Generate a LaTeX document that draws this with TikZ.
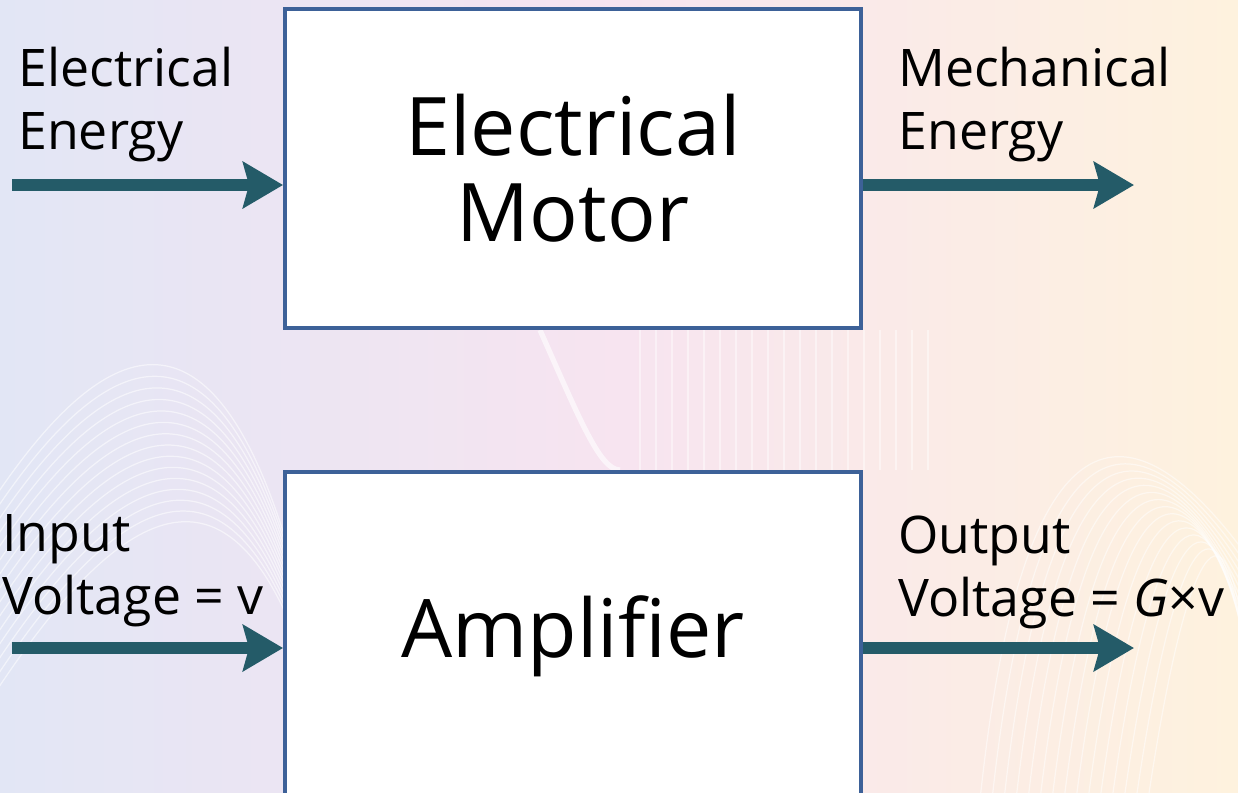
\documentclass[tikz,border=0pt]{standalone}
\usepackage{fontspec}
\setmainfont{Open Sans}
\usetikzlibrary{arrows.meta}
\definecolor{arrowc}{HTML}{245B68}
\definecolor{boxc}{HTML}{3D6198}
\definecolor{bgL}{HTML}{E2E6F5}
\definecolor{bgM}{HTML}{F7E4F0}
\definecolor{bgR}{HTML}{FEF2DE}
\begin{document}
\begin{tikzpicture}[x=0.02cm,y=-0.02cm,
  blockbox/.style={draw=boxc, line width=0.08cm, fill=white, minimum width=11.52cm, inner sep=0pt, align=center, font=\fontsize{46}{49}\selectfont},
  lbl/.style={anchor=base west, align=left, inner sep=0pt, font=\fontsize{29.5}{35.7}\selectfont},
  arr/.style={draw=arrowc, line width=0.24cm, -{Stealth[length=0.8cm, width=0.92cm, inset=0.12cm]}}]
\useasboundingbox (0,0) rectangle (1238,792);
\clip (0,0) rectangle (1238,792);
\shade[left color=bgL, right color=bgM] (0,0) rectangle (619,792);
\shade[left color=bgM, right color=bgR] (619,0) rectangle (1238,792);
% faint wave texture
\foreach \k in {0,...,14}{
  \draw[white, opacity=0.55, line width=0.7pt]
    (-20,{520+\k*14}) .. controls (120,{300+\k*14}) and (260,{250+\k*10}) .. (340,{800});
  \draw[white, opacity=0.5, line width=0.7pt]
    ({980+\k*12},800) .. controls ({1020+\k*12},{420+\k*8}) and ({1120+\k*8},{380+\k*6}) .. ({1250},{560+\k*10});
}
\foreach \k in {0,...,18}{
  \draw[white, opacity=0.45, line width=0.7pt] ({640+\k*16},330) -- ({640+\k*16},470);
}
\draw[white, opacity=0.6, line width=3pt] (540,330) .. controls (580,420) and (600,470) .. (620,470);

\node[blockbox, minimum height=6.38cm] (motor) at (573,168.5) {Electrical\\Motor};
\node[blockbox, minimum height=6.56cm] (amp) at (573,636) {Amplifier};

\node[lbl] (elE) at (18,149) {Electrical\\Energy};
\node[lbl] (mechE) at (898,149) {Mechanical\\Energy};
\node[lbl] (inV) at (2,614) {Input\\Voltage = v};
\node[lbl] (outV) at (898,616) {Output\\Voltage = \textit{G}×v};

\coordinate (a1) at (12,185);
\coordinate (a2) at (1134,185);
\coordinate (b1) at (12,648);
\coordinate (b2) at (1134,648);
\draw[arr] (a1) -- (a1 -| motor.west);
\draw[arr] (a2 -| motor.east) -- (a2);
\draw[arr] (b1) -- (b1 -| amp.west);
\draw[arr] (b2 -| amp.east) -- (b2);
\end{tikzpicture}
\end{document}
